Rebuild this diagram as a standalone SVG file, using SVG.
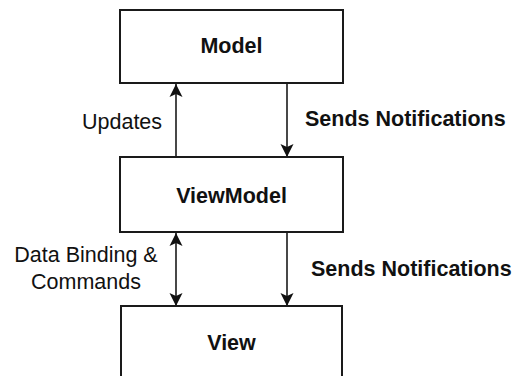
<svg xmlns="http://www.w3.org/2000/svg" width="517" height="376" viewBox="0 0 517 376">
  <style>
    .box { fill: #ffffff; stroke: #1a1a1a; stroke-width: 2; }
    .title { font-family: "Liberation Sans", Arial, sans-serif; font-size: 21.5px; font-weight: bold; fill: #111; text-anchor: middle; }
    .lbl { font-family: "Liberation Sans", Arial, sans-serif; font-size: 21.5px; fill: #111; }
    .lbl-b { font-family: "Liberation Sans", Arial, sans-serif; font-size: 21.5px; font-weight: bold; fill: #111; }
    .edge { stroke: #1a1a1a; stroke-width: 1.6; fill: none; }
  </style>
  <defs>
    <marker id="arrow" viewBox="0 0 14 14" refX="13" refY="7" markerWidth="14" markerHeight="14" markerUnits="userSpaceOnUse" orient="auto-start-reverse">
      <path d="M13,7 L0,0.5 L3,7 L0,13.5 Z" fill="#111"/>
    </marker>
  </defs>
  <rect width="517" height="376" fill="#ffffff"/>

  <g id="connectors">
    <!-- ViewModel -> Model : Updates -->
    <line class="edge" x1="176" y1="157" x2="176" y2="84" marker-end="url(#arrow)"/>
    <!-- Model -> ViewModel : Sends Notifications -->
    <line class="edge" x1="287" y1="84" x2="287" y2="157" marker-end="url(#arrow)"/>
    <!-- ViewModel <-> View : Data Binding & Commands -->
    <line class="edge" x1="176" y1="233" x2="176" y2="306" marker-start="url(#arrow)" marker-end="url(#arrow)"/>
    <!-- ViewModel -> View : Sends Notifications -->
    <line class="edge" x1="287" y1="233" x2="287" y2="306" marker-end="url(#arrow)"/>

    <text class="lbl" x="82" y="129">Updates</text>
    <text class="lbl-b" x="305" y="126">Sends Notifications</text>
    <text class="lbl" x="86" y="262" text-anchor="middle">Data Binding &amp;</text>
    <text class="lbl" x="86" y="289" text-anchor="middle">Commands</text>
    <text class="lbl-b" x="311" y="276">Sends Notifications</text>
  </g>

  <g id="model">
    <rect class="box" x="120" y="10" width="223" height="73"/>
    <text class="title" x="231.5" y="53">Model</text>
  </g>

  <g id="viewmodel">
    <rect class="box" x="120" y="157" width="223" height="75"/>
    <text class="title" x="231.5" y="203">ViewModel</text>
  </g>

  <g id="view">
    <rect class="box" x="121" y="306" width="221" height="80"/>
    <text class="title" x="231.5" y="350">View</text>
  </g>
</svg>
